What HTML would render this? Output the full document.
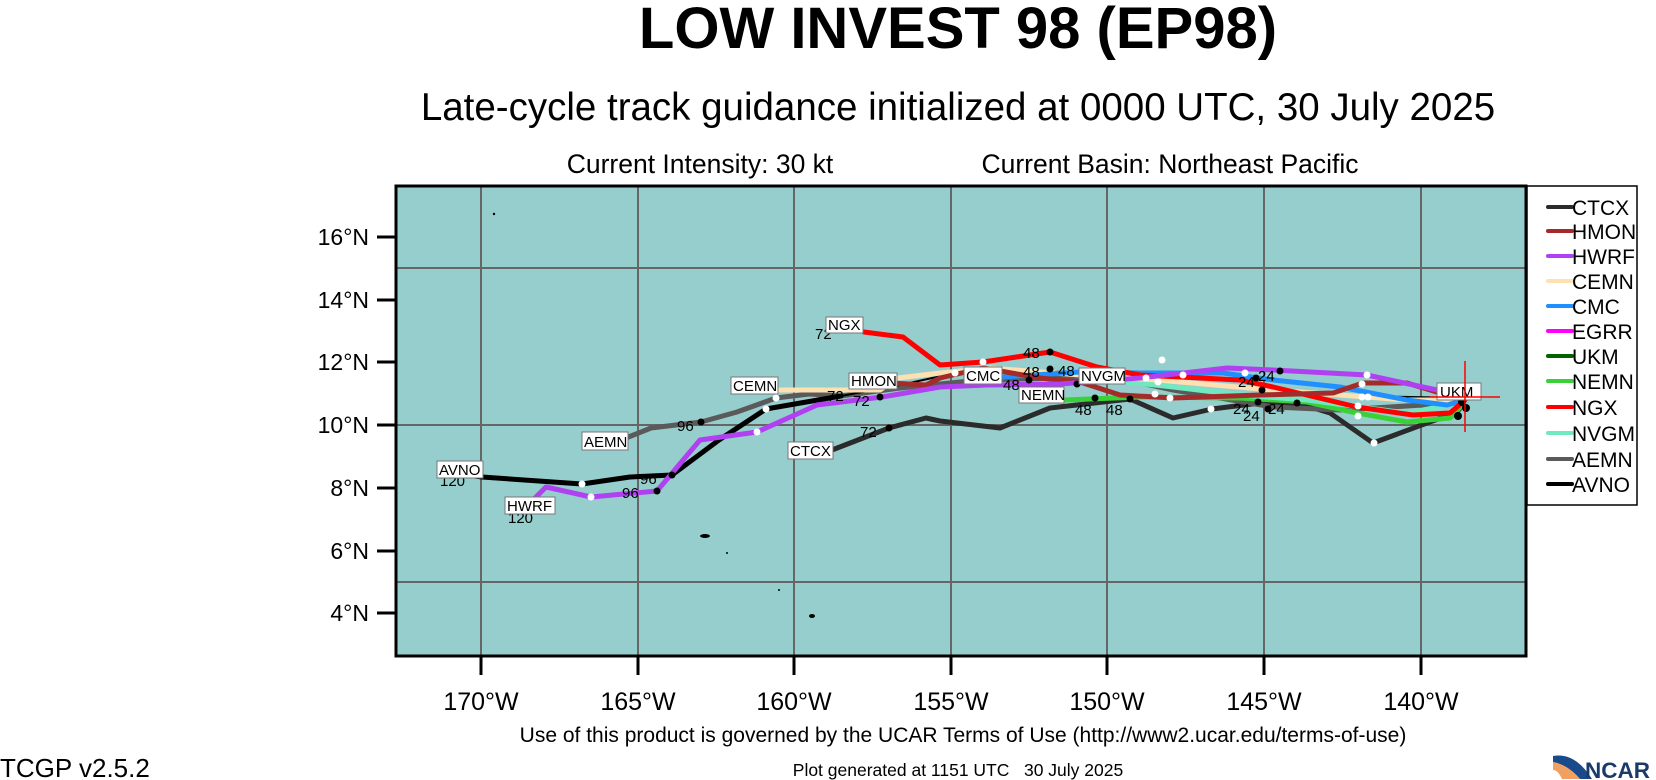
<!DOCTYPE html>
<html><head><meta charset="utf-8"><style>
html,body{margin:0;padding:0;background:#fff;}
svg{display:block;font-family:"Liberation Sans",Arial,sans-serif;}
</style></head><body>
<svg width="1656" height="780" viewBox="0 0 1656 780" xmlns="http://www.w3.org/2000/svg">
<text x="958" y="48" font-size="58" font-weight="bold" text-anchor="middle">LOW INVEST 98 (EP98)</text>
<text x="958" y="120" font-size="38.5" text-anchor="middle">Late-cycle track guidance initialized at 0000 UTC, 30 July 2025</text>
<text x="700" y="173" font-size="26.5" text-anchor="middle">Current Intensity: 30 kt</text>
<text x="1170" y="173" font-size="26.5" text-anchor="middle">Current Basin: Northeast Pacific</text>

<rect x="396" y="186" width="1130" height="470" fill="#96cecd"/>
<g stroke="#666" stroke-width="2">
<line x1="481" y1="186" x2="481" y2="656"/><line x1="638" y1="186" x2="638" y2="656"/>
<line x1="794" y1="186" x2="794" y2="656"/><line x1="951" y1="186" x2="951" y2="656"/>
<line x1="1107" y1="186" x2="1107" y2="656"/><line x1="1264" y1="186" x2="1264" y2="656"/>
<line x1="1421" y1="186" x2="1421" y2="656"/>
<line x1="396" y1="268" x2="1526" y2="268"/><line x1="396" y1="425" x2="1526" y2="425"/>
<line x1="396" y1="582" x2="1526" y2="582"/>
</g>
<g fill="#000"><circle cx="494" cy="214" r="1.2"/><ellipse cx="705" cy="536" rx="5" ry="2"/><circle cx="727" cy="553" r="1"/><circle cx="779" cy="590" r="1"/><ellipse cx="812" cy="616" rx="3" ry="2"/></g>

<g fill="none" stroke-linejoin="round" stroke-linecap="round">
<polyline stroke="#2b2b2b" stroke-width="5" points="832,450 889,428 926,418 940,421 1000,428 1050,408 1130,399 1173,418 1212,409 1260,403 1297,403 1330,413 1373,443 1457,412 1465,402"/>
<polyline stroke="#5a5a5a" stroke-width="5" points="626,438 651,428 701,422 737,412 776,398 809,394 841,396 900,388 980,380 1060,378 1127,380 1173,390 1273,407 1340,410 1423,405 1465,400"/>
<polyline stroke="#000" stroke-width="5" points="467,475 482,477 582,484 630,477 672,475 719,440 766,409 841,396"/>
<polyline stroke="#000" stroke-width="2" points="841,396 900,385 960,372 1010,370 1070,372 1140,380 1200,383 1290,390 1360,396 1465,398"/>
<polyline stroke="#3ad038" stroke-width="5" points="1065,400 1140,397 1240,398 1307,402 1357,413 1407,422 1450,418 1465,402"/>
<polyline stroke="#70e8c0" stroke-width="5" points="1127,382 1173,387 1240,395 1307,400 1360,407 1407,413 1465,402"/>
<polyline stroke="#ffe0b0" stroke-width="5" points="776,390 880,390 898,378 940,373 990,368 1080,375 1157,380 1273,390 1407,400 1465,400"/>
<polyline stroke="#1e90ff" stroke-width="5" points="1003,377 1080,372 1140,373 1223,373 1273,380 1340,387 1407,400 1447,405 1465,400"/>
<polyline stroke="#ff0000" stroke-width="5" points="864,332 903,337 940,365 983,362 1050,352 1097,367 1140,375 1240,380 1273,387 1357,407 1413,415 1450,413 1465,400"/>
<polyline stroke="#a52a2a" stroke-width="5" points="873,382 926,385 940,378 983,368 1040,378 1080,382 1120,395 1173,398 1260,395 1333,393 1363,383 1407,383 1440,393 1465,398"/>
<polyline stroke="#b040f0" stroke-width="5" points="530,503 546,487 591,497 657,491 700,440 757,432 817,405 882,397 940,387 987,385 1060,384 1140,378 1227,368 1273,370 1367,375 1437,390 1465,397"/>
</g>
<g fill="#fff">
<circle cx="582" cy="484" r="3.5"/><circle cx="591" cy="497" r="3.5"/><circle cx="757" cy="432" r="3.5"/><circle cx="766" cy="409" r="3.5"/><circle cx="776" cy="398" r="3.5"/>
<circle cx="983" cy="362" r="3.5"/><circle cx="955" cy="373" r="3.5"/><circle cx="1146" cy="378" r="3.5"/><circle cx="1158" cy="382" r="3.5"/><circle cx="1183" cy="375" r="3.5"/>
<circle cx="1155" cy="394" r="3.5"/><circle cx="1170" cy="398" r="3.5"/><circle cx="1211" cy="409" r="3.5"/><circle cx="1245" cy="373" r="3.5"/><circle cx="1162" cy="360" r="3.5"/>
<circle cx="1367" cy="375" r="3.5"/><circle cx="1362" cy="384" r="3.5"/><circle cx="1362" cy="397" r="3.5"/><circle cx="1368" cy="397" r="3.5"/><circle cx="1358" cy="406" r="3.5"/><circle cx="1358" cy="416" r="3.5"/><circle cx="1374" cy="443" r="3.5"/>
</g>
<g fill="#000">
<circle cx="672" cy="475" r="3.5"/><circle cx="657" cy="491" r="3.5"/><circle cx="701" cy="422" r="3.5"/><circle cx="889" cy="428" r="3.5"/><circle cx="880" cy="397" r="3.5"/>
<circle cx="1050" cy="352" r="3.5"/><circle cx="1050" cy="369" r="3.5"/><circle cx="1029" cy="380" r="3.5"/><circle cx="1077" cy="384" r="3.5"/><circle cx="1095" cy="398" r="3.5"/><circle cx="1130" cy="399" r="3.5"/>
<circle cx="1256" cy="378" r="3.5"/><circle cx="1280" cy="371" r="3.5"/><circle cx="1262" cy="390" r="3.5"/><circle cx="1258" cy="402" r="3.5"/><circle cx="1268" cy="409" r="3.5"/><circle cx="1297" cy="403" r="3.5"/>
<circle cx="1462" cy="402" r="4"/><circle cx="1466" cy="408" r="4"/><circle cx="1458" cy="416" r="4"/>
</g>
<g font-size="15" fill="#000">
<text x="440" y="486">120</text><text x="508" y="523">120</text><text x="622" y="498">96</text><text x="640" y="484">96</text><text x="677" y="431">96</text>
<text x="815" y="339">72</text><text x="827" y="401">72</text><text x="853" y="406">72</text><text x="860" y="437">72</text>
<text x="1023" y="358">48</text><text x="1023" y="377">48</text><text x="1058" y="376">48</text><text x="1003" y="390">48</text><text x="1075" y="415">48</text><text x="1106" y="415">48</text>
<text x="1238" y="387">24</text><text x="1258" y="381">24</text><text x="1233" y="414">24</text><text x="1243" y="421">24</text><text x="1268" y="414">24</text>
</g>
<g font-size="15" fill="#000">
<rect x="437" y="461" width="46" height="17" fill="#fff" stroke="#777"/><text x="439" y="475">AVNO</text>
<rect x="505" y="497" width="50" height="17" fill="#fff" stroke="#777"/><text x="507" y="511">HWRF</text>
<rect x="582" y="432" width="46" height="18" fill="#fff" stroke="#777"/><text x="584" y="447">AEMN</text>
<rect x="731" y="377" width="47" height="17" fill="#fff" stroke="#777"/><text x="733" y="391">CEMN</text>
<rect x="826" y="317" width="37" height="16" fill="#fff" stroke="#777"/><text x="828" y="330">NGX</text>
<rect x="849" y="373" width="48" height="16" fill="#fff" stroke="#777"/><text x="851" y="386">HMON</text>
<rect x="788" y="442" width="45" height="17" fill="#fff" stroke="#777"/><text x="790" y="456">CTCX</text>
<rect x="964" y="367" width="38" height="17" fill="#fff" stroke="#777"/><text x="966" y="381">CMC</text>
<rect x="1019" y="387" width="45" height="16" fill="#fff" stroke="#777"/><text x="1021" y="400">NEMN</text>
<rect x="1079" y="368" width="46" height="16" fill="#fff" stroke="#777"/><text x="1081" y="381">NVGM</text>
<rect x="1437" y="383" width="44" height="17" fill="#fff" stroke="#777"/><text x="1440" y="397">UKM</text>
</g>
<g stroke="#f00" stroke-width="1.5"><line x1="1465" y1="361" x2="1465" y2="432"/><line x1="1430" y1="397" x2="1500" y2="397"/></g>

<rect x="396" y="186" width="1130" height="470" fill="none" stroke="#000" stroke-width="3"/>
<g stroke="#000" stroke-width="3">
<line x1="377" y1="237" x2="396" y2="237"/><line x1="377" y1="300" x2="396" y2="300"/><line x1="377" y1="362" x2="396" y2="362"/>
<line x1="377" y1="425" x2="396" y2="425"/><line x1="377" y1="488" x2="396" y2="488"/><line x1="377" y1="551" x2="396" y2="551"/><line x1="377" y1="613" x2="396" y2="613"/>
<line x1="481" y1="656" x2="481" y2="675"/><line x1="638" y1="656" x2="638" y2="675"/><line x1="794" y1="656" x2="794" y2="675"/><line x1="951" y1="656" x2="951" y2="675"/>
<line x1="1107" y1="656" x2="1107" y2="675"/><line x1="1264" y1="656" x2="1264" y2="675"/><line x1="1421" y1="656" x2="1421" y2="675"/>
</g>
<g font-size="23" text-anchor="end">
<text x="369" y="245">16°N</text><text x="369" y="308">14°N</text><text x="369" y="370">12°N</text><text x="369" y="433">10°N</text>
<text x="369" y="496">8°N</text><text x="369" y="559">6°N</text><text x="369" y="621">4°N</text>
</g>
<g font-size="25" text-anchor="middle">
<text x="481" y="710">170°W</text><text x="638" y="710">165°W</text><text x="794" y="710">160°W</text><text x="951" y="710">155°W</text>
<text x="1107" y="710">150°W</text><text x="1264" y="710">145°W</text><text x="1421" y="710">140°W</text>
</g>

<rect x="1527" y="186" width="110" height="319" fill="#fff" stroke="#000" stroke-width="1.5"/>
<g stroke-width="4" stroke-linecap="round">
<line x1="1548" y1="207" x2="1572" y2="207" stroke="#2b2b2b"/><line x1="1548" y1="231" x2="1572" y2="231" stroke="#a52a2a"/>
<line x1="1548" y1="256" x2="1572" y2="256" stroke="#b040f0"/><line x1="1548" y1="281" x2="1572" y2="281" stroke="#ffe0b0"/>
<line x1="1548" y1="306" x2="1572" y2="306" stroke="#1e90ff"/><line x1="1548" y1="331" x2="1572" y2="331" stroke="#ff00ff"/>
<line x1="1548" y1="356" x2="1572" y2="356" stroke="#006400"/><line x1="1548" y1="381" x2="1572" y2="381" stroke="#3ad038"/>
<line x1="1548" y1="407" x2="1572" y2="407" stroke="#ff0000"/><line x1="1548" y1="433" x2="1572" y2="433" stroke="#70e8c0"/>
<line x1="1548" y1="459" x2="1572" y2="459" stroke="#5a5a5a"/><line x1="1548" y1="484" x2="1572" y2="484" stroke="#000"/>
</g>
<g font-size="21">
<text x="1572" y="215">CTCX</text><text x="1572" y="239">HMON</text><text x="1572" y="264">HWRF</text><text x="1572" y="289">CEMN</text>
<text x="1572" y="314">CMC</text><text x="1572" y="339">EGRR</text><text x="1572" y="364">UKM</text><text x="1572" y="389">NEMN</text>
<text x="1572" y="415">NGX</text><text x="1572" y="441">NVGM</text><text x="1572" y="467">AEMN</text><text x="1572" y="492">AVNO</text>
</g>

<text x="963" y="742" font-size="21" text-anchor="middle">Use of this product is governed by the UCAR Terms of Use (http://www2.ucar.edu/terms-of-use)</text>
<text x="0" y="777" font-size="26">TCGP v2.5.2</text>
<text x="958" y="776" font-size="17.5" text-anchor="middle" xml:space="preserve">Plot generated at 1151 UTC   30 July 2025</text>
<path d="M1553,756 Q1575,752 1592,779 L1580,779 Q1568,765 1553,762 Z" fill="#1a4a8a"/>
<path d="M1553,762 Q1568,765 1580,779 L1562,779 Q1558,770 1553,770 Z" fill="#f0a060"/>
<text x="1585" y="778" font-size="22" font-weight="bold" fill="#1a3a6a" textLength="65" lengthAdjust="spacingAndGlyphs">NCAR</text>
</svg>
</body></html>
